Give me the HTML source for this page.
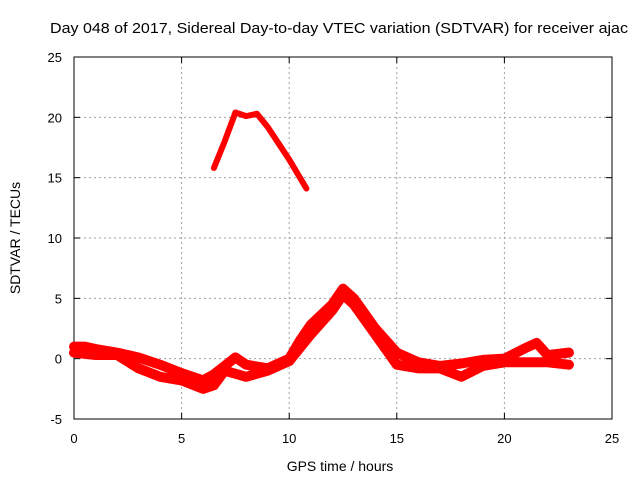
<!DOCTYPE html>
<html><head><meta charset="utf-8"><style>
body{margin:0;background:#fff}
svg{display:block;font-family:"Liberation Sans",sans-serif}
</style></head><body>
<svg id="c" width="640" height="480"></svg>
<script>
const hoursA=[0,0.5,1,2,3,4,5,6,6.5,7,7.5,8,9,10,10.5,11,12,12.5,13,14,15,16,17,18,19,20,21,21.5,22,23];
const valsA=[1.0,1.0,0.8,0.5,0.1,-0.5,-1.2,-1.8,-1.3,-0.6,0.1,-0.5,-0.8,0,1.5,2.8,4.5,5.8,5,2.5,0.5,-0.3,-0.6,-0.4,-0.1,0,0.9,1.3,0.3,0.5];
const hoursB=[0,1,2,3,4,5,6,6.5,7,8,9,10,11,12,12.5,13,14,15,16,17,18,19,20,21,22,23];
const valsB=[0.5,0.3,0.3,-0.8,-1.5,-1.8,-2.5,-2.2,-1.0,-1.5,-1.0,-0.2,2,4,5.3,4.5,2,-0.5,-0.8,-0.8,-1.5,-0.6,-0.3,-0.3,-0.3,-0.5];
const hoursC=[6.5,7,7.5,8,8.5,9,10,10.8];
const valsC=[15.8,18,20.4,20.1,20.3,19.2,16.5,14.1];
const xTicks=[0,5,10,15,20,25];
const yTicks=[-5,0,5,10,15,20,25];
const X0=74,X1=612,Y0=419,Y1=57;
const xs=v=>X0+(v-0)/25*(X1-X0);
const ys=v=>Y0-(v+5)/30*(Y0-Y1);
const NS="http://www.w3.org/2000/svg";
const svg=document.getElementById('c');
function mk(t,a){const e=document.createElementNS(NS,t);for(const k in a)e.setAttribute(k,a[k]);svg.appendChild(e);return e;}
xTicks.forEach(t=>{
  if(t>0&&t<25){const g=mk('line',{x1:xs(t),x2:xs(t),y1:Y1,y2:Y0,stroke:'#a0a0a0','stroke-dasharray':'2,3'});
  
  }
  const l=mk('text',{x:xs(t),y:Y0+24,'text-anchor':'middle','font-size':13});l.textContent=t;
  
  
  mk('line',{x1:xs(t),x2:xs(t),y1:Y0,y2:Y0-6,stroke:'#000'});
  mk('line',{x1:xs(t),x2:xs(t),y1:Y1,y2:Y1+6,stroke:'#000'});
});
yTicks.forEach(t=>{
  if(t>-5&&t<25){const g=mk('line',{x1:X0,x2:X1,y1:ys(t),y2:ys(t),stroke:'#a0a0a0','stroke-dasharray':'2,3'});
  
  }
  const l=mk('text',{x:X0-12,y:ys(t)+5,'text-anchor':'end','font-size':13});l.textContent=t;
  
  
  mk('line',{x1:X0,x2:X0+6,y1:ys(t),y2:ys(t),stroke:'#000'});
  mk('line',{x1:X1,x2:X1-6,y1:ys(t),y2:ys(t),stroke:'#000'});
});
const fr=mk('rect',{x:X0,y:Y1,width:X1-X0,height:Y0-Y1,fill:'none',stroke:'#000'});


function series(h,v,w,name){
  const p=mk('polyline',{points:h.map((x,i)=>xs(x)+','+ys(v[i])).join(' '),fill:'none',stroke:'#f00','stroke-width':w,'stroke-linejoin':'round','stroke-linecap':'round'});
  
  
}
series(hoursA,valsA,10,'series-upper-strand');
series(hoursB,valsB,10,'series-lower-strand');
series(hoursC,valsC,6,'series-high-arc');
const t=mk('text',{x:50,y:33,'font-size':15,textLength:578,lengthAdjust:'spacingAndGlyphs'});t.textContent='Day 048 of 2017, Sidereal Day-to-day VTEC variation (SDTVAR) for receiver ajac';


const xl=mk('text',{x:340,y:471,'text-anchor':'middle','font-size':14});xl.textContent='GPS time / hours';


const yl=mk('text',{x:20,y:238,'text-anchor':'middle','font-size':14,transform:'rotate(-90 20 238)'});yl.textContent='SDTVAR / TECUs';


</script>
</body></html>
